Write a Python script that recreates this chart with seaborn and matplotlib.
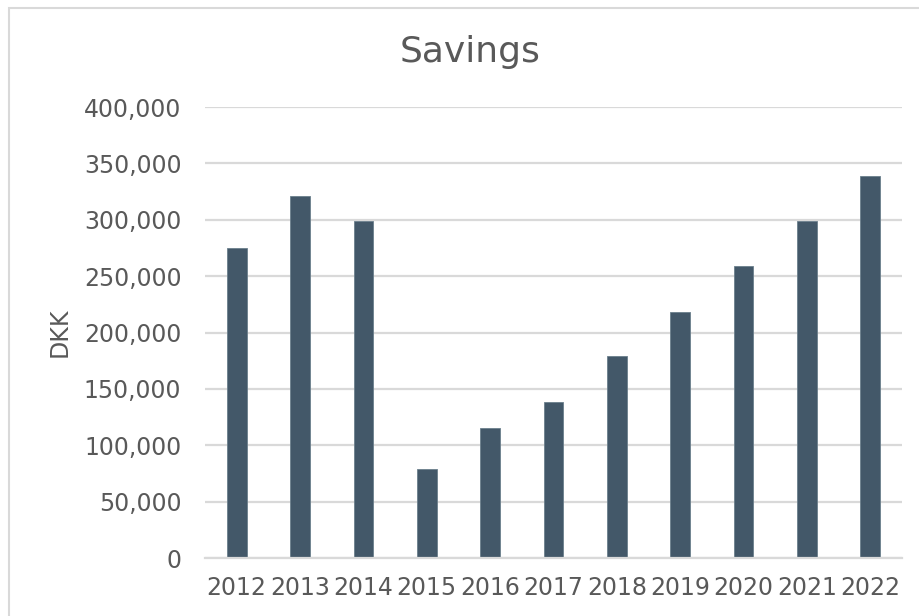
import matplotlib
matplotlib.use("Agg")
import matplotlib.pyplot as plt
import matplotlib.ticker as mticker
from matplotlib.patches import Rectangle
import seaborn as sns
import pandas as pd

# ── Data ──────────────────────────────────────────
YEARS   = ["2012", "2013", "2014", "2015", "2016", "2017",
           "2018", "2019", "2020", "2021", "2022"]
SAVINGS = [275000, 321000, 299000, 79000, 115000, 138000,
           179000, 218000, 259000, 299000, 339000]
Y_TICKS = [0, 50000, 100000, 150000, 200000, 250000, 300000, 350000, 400000]

BAR_COLOR  = "#435869"
TEXT_COLOR = "#595959"
GRID_COLOR = "#D9D9D9"

sns.set_theme(style="white")
plt.rcParams["font.family"] = ["DejaVu Sans"]

df = pd.DataFrame({"year": YEARS, "savings": SAVINGS})

fig = plt.figure(figsize=(9.19, 6.16), dpi=100)
ax = fig.add_axes([205 / 919, 1 - 558 / 616, (902 - 205) / 919, (558 - 107) / 616])

sns.barplot(data=df, x="year", y="savings", color=BAR_COLOR, saturation=1,
            width=0.31, edgecolor="#6b7f8c", linewidth=0.6, ax=ax)

ax.set_ylim(0, 400000)
ax.set_yticks(Y_TICKS)
ax.yaxis.set_major_formatter(mticker.FuncFormatter(lambda v, _: f"{int(v):,}"))
ax.set_xlim(-0.5, len(YEARS) - 0.5)

ax.grid(axis="y", color=GRID_COLOR, linewidth=1.6)
ax.set_axisbelow(True)
for side in ["top", "right", "left"]:
    ax.spines[side].set_visible(False)
ax.spines["bottom"].set_color(GRID_COLOR)
ax.spines["bottom"].set_linewidth(1.6)

ax.tick_params(axis="both", length=0, colors=TEXT_COLOR, labelsize=17)
ax.tick_params(axis="y", pad=17)
ax.tick_params(axis="x", pad=13)
ax.set_xlabel("")
ax.set_ylabel("DKK", color=TEXT_COLOR, fontsize=17, labelpad=9)

fig.text(470 / 919, 1 - 52 / 616, "Savings", ha="center", va="center",
         color=TEXT_COLOR, fontsize=26)

# chart-area border (cut off on the right and bottom)
fig.patches.append(Rectangle((9 / 919, -0.05), 1.2, 1.05 - 8 / 616,
                             transform=fig.transFigure, fill=False,
                             edgecolor=GRID_COLOR, linewidth=1.5))

fig.savefig("out.png", dpi=100)
